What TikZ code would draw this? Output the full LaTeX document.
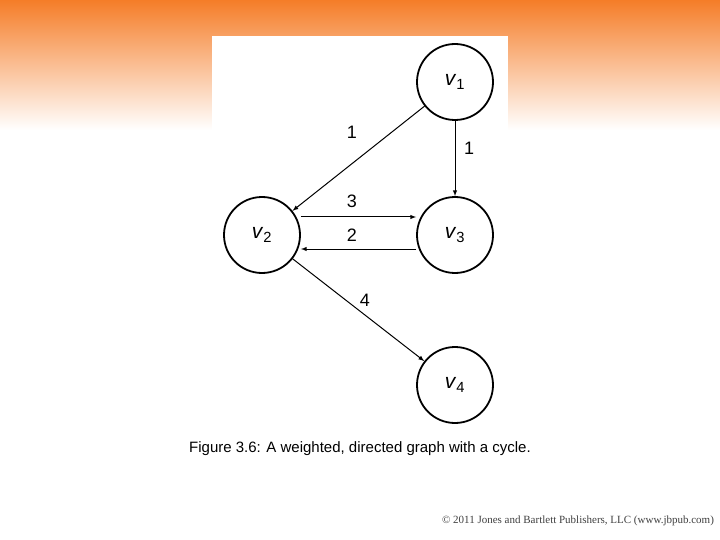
\documentclass[tikz,border=0pt]{standalone}
\usepackage{fontspec}
\setmainfont{Liberation Sans}
\newfontfamily\serifc{Liberation Serif}
\begin{document}
\begin{tikzpicture}[x=1pt,y=-1pt,
  vert/.style={circle,draw,line width=1.8pt,minimum size=76pt,inner sep=0pt,font=\fontsize{21}{21}\selectfont},
  edge/.style={-latex,line width=1pt},
  wt/.style={font=\fontsize{18}{18}\selectfont}]
\useasboundingbox (0,0) rectangle (720,540);
\fill[white] (0,0) rectangle (720,540);
\shade[top color={rgb,255:red,245;green,125;blue,40}, bottom color=white] (0,0) rectangle (720,130);
\fill[white] (212,36) rectangle (508,135);
\node[vert] (v1) at (455,82) {\textit{v}\textsubscript{1}};
\node[vert] (v2) at (262,235) {\textit{v}\textsubscript{2}};
\node[vert] (v3) at (455,235) {\textit{v}\textsubscript{3}};
\node[vert] (v4) at (455,385) {\textit{v}\textsubscript{4}};
\draw[edge] (v1) -- (v2);
\draw[edge] (v1) -- (v3);
\draw[edge] ([yshift=18pt]v2.east) -- ([yshift=18pt]v3.west);
\draw[edge] ([yshift=-14pt]v3.west) -- ([yshift=-14pt]v2.east);
\draw[edge] (v2) -- (v4);
\node[wt] (w1) at (352,132) {1};
\node[wt] (w2) at (469,148) {1};
\node[wt] (w3) at (352,201) {3};
\node[wt] (w4) at (352,235) {2};
\node[wt] (w5) at (365,300) {4};
\node[font=\fontsize{15}{16}\selectfont] (cap) at (360,449) {Figure 3.6: A weighted, directed graph with a cycle.};
\node[font=\serifc\fontsize{11}{11}\selectfont,text=black!75] (cr) at (578,521) {\textcopyright{} 2011 Jones and Bartlett Publishers, LLC (www.jbpub.com)};
\end{tikzpicture}
\end{document}
